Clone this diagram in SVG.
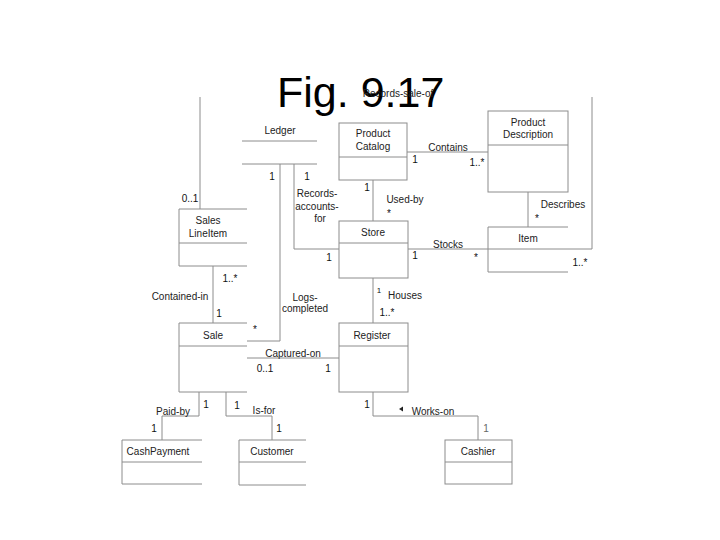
<svg xmlns="http://www.w3.org/2000/svg" width="720" height="540" viewBox="0 0 720 540">
<style>
.ln{fill:none;stroke:#8c8c8c;stroke-width:1}
.t{font-family:"Liberation Sans",Arial,sans-serif;font-size:10px;fill:#222;text-anchor:middle}
.m{font-family:"Liberation Sans",Arial,sans-serif;font-size:10px;fill:#111;text-anchor:middle}
.title{font-family:"Liberation Sans",Arial,sans-serif;font-size:43px;fill:#000}
</style>
<rect width="720" height="540" fill="#fff"/>
<text class="title" x="277" y="107">Fig. 9.17</text>

<g id="connectors">
  <!-- Records-sale-of -->
  <path class="ln" d="M200,209 V97"/>
  <path class="ln" d="M592,97 V249 H568"/>
  <!-- Records-accounts-for -->
  <path class="ln" d="M294,164 V249 H339"/>
  <!-- Logs-completed -->
  <path class="ln" d="M280,164 V341 H247"/>
  <!-- Contains -->
  <path class="ln" d="M407,152 H488"/>
  <!-- Used-by -->
  <path class="ln" d="M373,180 V221"/>
  <!-- Describes -->
  <path class="ln" d="M528,192 V227"/>
  <!-- Stocks -->
  <path class="ln" d="M408,249 H488"/>
  <!-- Contained-in -->
  <path class="ln" d="M213,266 V323"/>
  <!-- Houses -->
  <path class="ln" d="M373,278 V323"/>
  <!-- Captured-on -->
  <path class="ln" d="M247,358 H339"/>
  <!-- Paid-by -->
  <path class="ln" d="M199,392 V416 H162 V440"/>
  <!-- Is-for -->
  <path class="ln" d="M226,392 V416 H272 V440"/>
  <!-- Works-on -->
  <path class="ln" d="M373,392 V416 H478 V440"/>
  <polygon points="399,409 403,406.5 403,411.5" fill="#222"/>

  <text class="t" x="398" y="97" style="text-anchor:middle">Records-sale-of</text>
  <text class="m" x="190" y="202">0..1</text>
  <text class="m" x="580" y="266">1..*</text>
  <text class="m" x="272" y="180">1</text>
  <text class="m" x="307" y="180">1</text>
  <text class="t" x="317" y="197">Records-</text>
  <text class="t" x="317" y="210">accounts-</text>
  <text class="t" x="320" y="222">for</text>
  <text class="m" x="329" y="261">1</text>
  <text class="t" x="448" y="151">Contains</text>
  <text class="m" x="415" y="163">1</text>
  <text class="m" x="477" y="166">1..*</text>
  <text class="m" x="367" y="191">1</text>
  <text class="t" x="405" y="203">Used-by</text>
  <text class="m" x="389" y="217">*</text>
  <text class="t" x="563" y="208">Describes</text>
  <text class="m" x="537" y="222">*</text>
  <text class="t" x="448" y="248">Stocks</text>
  <text class="m" x="415" y="259">1</text>
  <text class="m" x="476" y="261">*</text>
  <text class="m" x="230" y="282">1..*</text>
  <text class="t" x="180" y="300">Contained-in</text>
  <text class="m" x="219" y="317">1</text>
  <text class="t" x="305" y="301">Logs-</text>
  <text class="t" x="305" y="312">completed</text>
  <text class="m" x="255" y="333">*</text>
  <text class="m" x="379" y="293" style="font-size:8px">1</text>
  <text class="t" x="405" y="299">Houses</text>
  <text class="m" x="387" y="316">1..*</text>
  <text class="t" x="293" y="357">Captured-on</text>
  <text class="m" x="265" y="372">0..1</text>
  <text class="m" x="328" y="372">1</text>
  <text class="m" x="206" y="408">1</text>
  <text class="t" x="173" y="415">Paid-by</text>
  <text class="m" x="154" y="432">1</text>
  <text class="m" x="237" y="409">1</text>
  <text class="t" x="264" y="414">Is-for</text>
  <text class="m" x="279" y="432">1</text>
  <text class="m" x="367" y="408">1</text>
  <text class="t" x="433" y="415">Works-on</text>
  <text class="m" x="486" y="432" style="fill:#666">1</text>
</g>

<g id="ledger">
  <path class="ln" d="M242,141 H317 M242,164 H317"/>
  <text class="t" x="280" y="134">Ledger</text>
</g>
<g id="product-catalog">
  <rect class="ln" x="339" y="123" width="68" height="57"/>
  <path class="ln" d="M339,157 H407"/>
  <text class="t" x="373" y="137">Product</text>
  <text class="t" x="373" y="150">Catalog</text>
</g>
<g id="product-description">
  <rect class="ln" x="488" y="111" width="80" height="81"/>
  <path class="ln" d="M488,145 H568"/>
  <text class="t" x="528" y="126">Product</text>
  <text class="t" x="528" y="138">Description</text>
</g>
<g id="item">
  <path class="ln" d="M568,227 H488 V272 H568 M488,249 H568"/>
  <text class="t" x="528" y="242">Item</text>
</g>
<g id="store">
  <rect class="ln" x="339" y="221" width="69" height="57"/>
  <path class="ln" d="M339,243 H408"/>
  <text class="t" x="373" y="236">Store</text>
</g>
<g id="sales-lineitem">
  <path class="ln" d="M247,209 H179 V266 H247 M179,243 H247"/>
  <text class="t" x="208" y="224">Sales</text>
  <text class="t" x="208" y="237">LineItem</text>
</g>
<g id="sale">
  <path class="ln" d="M247,323 H179 V392 H247 M179,346 H247"/>
  <text class="t" x="213" y="339">Sale</text>
</g>
<g id="register">
  <rect class="ln" x="339" y="323" width="69" height="69"/>
  <path class="ln" d="M339,346 H408"/>
  <text class="t" x="372" y="339">Register</text>
</g>
<g id="cash-payment">
  <path class="ln" d="M202,440 H122 V484 H202 M122,462 H202"/>
  <text class="t" x="158" y="455">CashPayment</text>
</g>
<g id="customer">
  <path class="ln" d="M306,440 H239 V485 H306 M239,462 H306"/>
  <text class="t" x="272" y="455">Customer</text>
</g>
<g id="cashier">
  <rect class="ln" x="445" y="440" width="67" height="44"/>
  <path class="ln" d="M445,462 H512"/>
  <text class="t" x="478" y="455">Cashier</text>
</g>
</svg>
